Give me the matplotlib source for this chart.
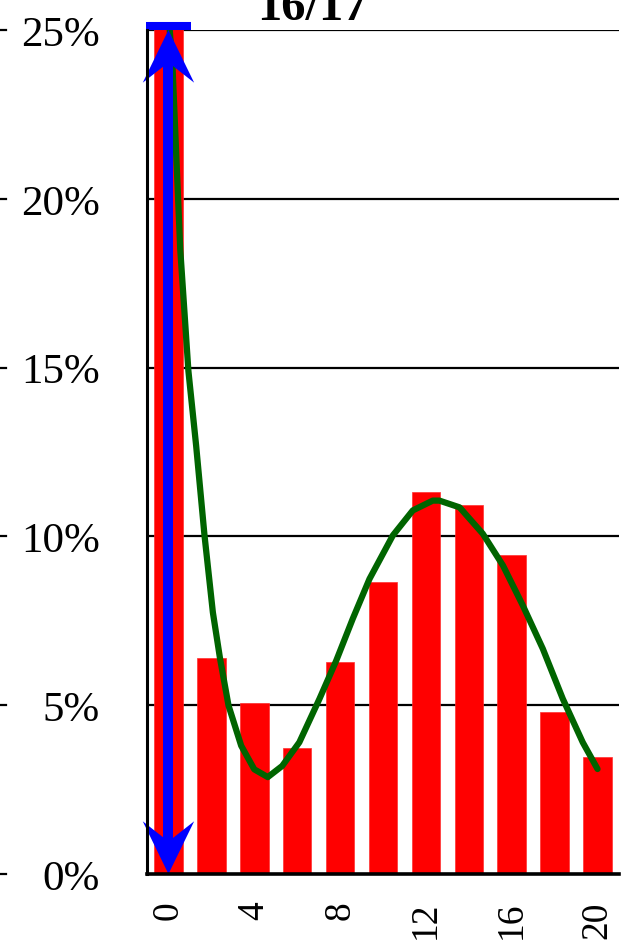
import numpy as np
import matplotlib
matplotlib.use("Agg")
import matplotlib.pyplot as plt
from matplotlib.patches import Polygon
from matplotlib.lines import Line2D
import matplotlib.transforms as mtransforms

# ---- data ----
bins = [0, 2, 4, 6, 8, 10, 12, 14, 16, 18, 20]
pct = [27.0, 6.39, 5.06, 3.72, 6.27, 8.66, 11.32, 10.93, 9.45, 4.79, 3.47]
curve_x = [0.0, 0.19, 0.55, 0.93, 1.29, 1.68, 2.07, 2.40, 2.80, 3.39, 4.0, 4.63,
           5.3, 6.1, 7.04, 7.82, 8.59, 9.37, 10.46, 11.39, 12.32, 12.63, 13.57,
           14.65, 15.59, 16.52, 17.45, 18.38, 19.31, 20.0]
curve_y = [25.5, 23.9, 18.5, 14.9, 12.69, 10.03, 7.75, 6.4, 4.99, 3.80, 3.1, 2.87,
           3.2, 3.9, 5.19, 6.32, 7.56, 8.74, 10.03, 10.77, 11.06, 11.06, 10.86,
           10.08, 9.14, 7.95, 6.67, 5.19, 3.9, 3.11]
yticks = [0, 5, 10, 15, 20, 25]
ytick_labels = ["0%", "5%", "10%", "15%", "20%", "25%"]
xticks = [0, 4, 8, 12, 16, 20]
xtick_labels = ["0", "4", "8", "12", "16", "20"]
title = "16/17"

plt.rcParams['font.family'] = ['Liberation Serif', 'DejaVu Serif']

W, H = 625, 945
fig = plt.figure(figsize=(W / 100, H / 100), dpi=100)
ax = fig.add_axes([147 / W, 1 - 875 / H, (619 - 147) / W, (875 - 31) / H])

ax.set_xlim(-1.0, 21.0)
ax.set_ylim(0, 25)

# gridlines
for yv in yticks[1:]:
    ax.axhline(yv, color='black', lw=1.6, zorder=0.5)

ax.bar(bins, pct, width=1.33, color='#ff0000', edgecolor='#ff3030', lw=0.5, zorder=2)

ax.plot(curve_x, curve_y, color='#006400', lw=4.5, zorder=3,
        solid_capstyle='round', solid_joinstyle='round')

# blue double arrow at x=0
ax.plot([0, 0], [0.6, 24.4], color='#0000ff', lw=7.2, solid_capstyle='butt', zorder=4)
head = np.array([[0, 0], [-0.257, -0.527], [0, -0.325], [0.257, -0.527]])
for yv, sgn in [(25, 1), (0, -1)]:
    verts = head.copy()
    verts[:, 1] *= sgn
    poly = Polygon(verts, closed=True, facecolor='#0000ff', edgecolor='none',
                   transform=fig.dpi_scale_trans +
                   mtransforms.ScaledTranslation(0, yv, ax.transData),
                   zorder=5, clip_on=False)
    ax.add_patch(poly)

# blue cap above the plot at 25%
ax.plot([-1.05, 1.05], [25.12, 25.12], color='#0000ff', lw=5.8,
        solid_capstyle='butt', zorder=5, clip_on=False)

# spines
for s in ['top', 'right']:
    ax.spines[s].set_visible(False)
ax.spines['left'].set_linewidth(2.2)
ax.spines['bottom'].set_linewidth(2.6)
ax.spines['left'].set_zorder(6)
ax.spines['bottom'].set_zorder(6)

ax.set_yticks(yticks)
ax.set_yticklabels(ytick_labels, fontsize=31)
ax.tick_params(axis='y', length=0, pad=34)
ax.set_xticks(xticks)
ax.set_xticklabels(xtick_labels, fontsize=27, rotation=90)
ax.tick_params(axis='x', length=0, pad=19)

# small marks at far left edge
bt = mtransforms.blended_transform_factory(fig.transFigure, ax.transData)
for yv in yticks:
    fig.add_artist(Line2D([0, 6 / W], [yv, yv], transform=bt, color='black', lw=1.6))

fig.text(0.5, 1 - 20 / H, title, ha='center', va='baseline',
         fontsize=35, fontweight='bold')

fig.savefig("out.png", dpi=100)
